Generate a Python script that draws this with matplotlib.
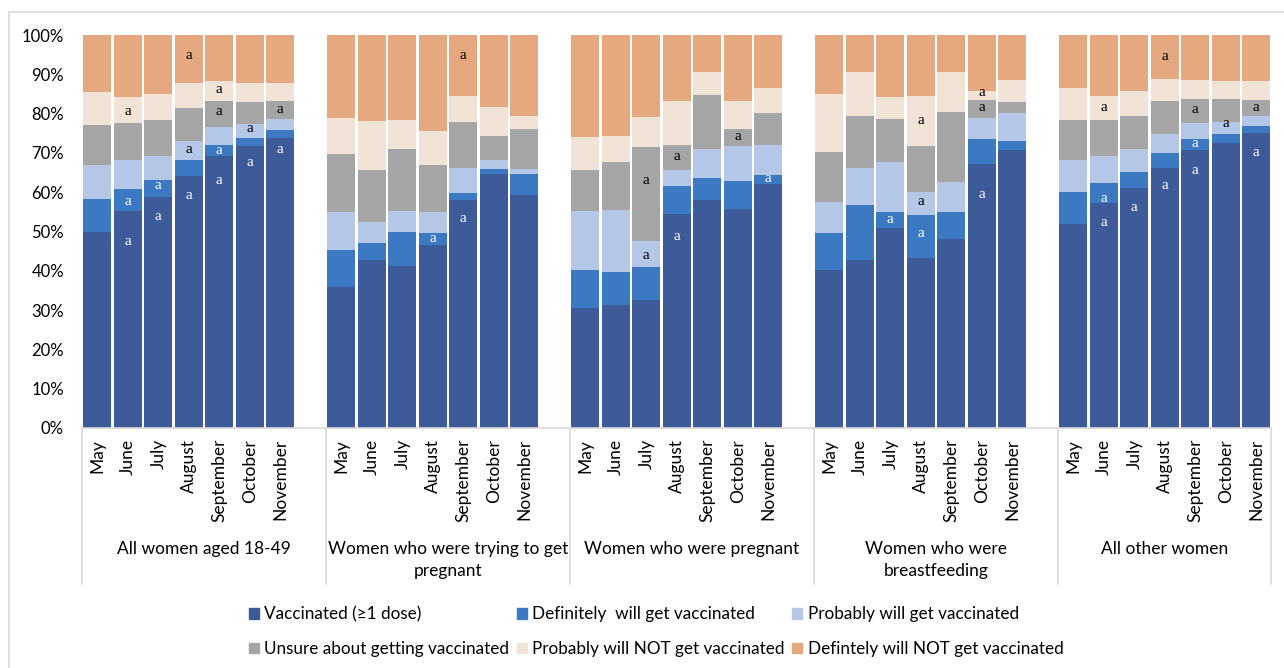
import matplotlib
matplotlib.use("Agg")
import matplotlib.pyplot as plt
from matplotlib.patches import Rectangle, Patch
from matplotlib.transforms import blended_transform_factory
import numpy as np

plt.rcParams['font.family'] = ['Lato', 'DejaVu Sans']

groups = ["All women aged 18-49", "Women who were trying to get\npregnant",
          "Women who were pregnant", "Women who were\nbreastfeeding", "All other women"]
months = ["May", "June", "July", "August", "September", "October", "November"]

series_names = ["Vaccinated (\u22651 dose)", "Definitely  will get vaccinated",
                "Probably will get vaccinated", "Unsure about getting vaccinated",
                "Probably will NOT get vaccinated", "Defintely will NOT get vaccinated"]

# values (%) per group, 7 months each
vaccinated = [50.0, 55.2, 58.7, 64.0, 69.2, 71.7, 73.8,
              36.0, 42.7, 41.2, 46.6, 57.9, 64.7, 59.2,
              30.5, 31.4, 32.5, 54.4, 57.9, 55.6, 62.2,
              40.3, 42.7, 51.0, 43.2, 48.0, 67.1, 70.7,
              51.8, 57.2, 61.1, 66.1, 70.8, 72.6, 75.1]
definitely = [8.3, 5.7, 4.3, 4.1, 2.8, 2.2, 2.0,
              9.2, 4.4, 8.8, 2.9, 1.9, 1.2, 5.5,
              9.8, 8.4, 8.5, 7.1, 5.6, 7.2, 2.1,
              9.2, 14.0, 4.0, 10.9, 6.9, 6.4, 2.4,
              8.3, 5.2, 4.0, 3.8, 2.8, 2.1, 1.7]
probably = [8.5, 7.2, 6.2, 4.9, 4.6, 3.4, 2.8,
            9.7, 5.2, 5.3, 5.4, 6.3, 2.4, 1.1,
            14.9, 15.6, 6.6, 4.1, 7.4, 8.9, 7.7,
            7.9, 9.5, 12.8, 5.9, 7.7, 5.4, 7.1,
            8.2, 6.9, 5.8, 5.0, 4.1, 3.1, 2.6]
unsure = [10.3, 9.5, 9.1, 8.5, 6.7, 5.6, 4.6,
          14.9, 13.3, 15.8, 12.0, 11.7, 6.0, 10.4,
          10.5, 12.3, 23.9, 6.5, 13.9, 4.3, 8.2,
          12.8, 13.2, 10.7, 11.7, 17.7, 4.5, 2.7,
          10.0, 9.0, 8.4, 8.3, 5.9, 5.8, 4.1]
probably_not = [8.5, 6.7, 6.7, 6.4, 5.1, 5.0, 4.6,
                9.2, 12.5, 7.2, 8.6, 6.7, 7.4, 3.2,
                8.4, 6.5, 7.6, 11.1, 5.9, 7.3, 6.2,
                14.9, 11.2, 5.6, 12.9, 10.3, 2.4, 5.7,
                8.1, 6.3, 6.4, 5.7, 4.9, 4.7, 4.8]
definitely_not = [14.4, 15.7, 15.0, 12.1, 11.6, 12.1, 12.2,
                  21.0, 21.9, 21.7, 24.5, 15.5, 18.3, 20.6,
                  25.9, 25.8, 20.9, 16.8, 9.3, 16.7, 13.6,
                  14.9, 9.4, 15.9, 15.4, 9.4, 14.2, 11.4,
                  13.6, 15.4, 14.3, 11.1, 11.5, 11.7, 11.7]

# significance markers "a": (group, month, y%)
markers = [(0, 1, 47.5), (0, 1, 57.7), (0, 1, 80.5), (0, 2, 53.9), (0, 2, 61.6),
           (0, 3, 59.2), (0, 3, 70.9), (0, 3, 94.7), (0, 4, 63.0), (0, 4, 70.7),
           (0, 4, 80.6), (0, 4, 86.2), (0, 5, 67.5), (0, 5, 76.3), (0, 6, 70.9), (0, 6, 81.1),
           (1, 3, 48.2), (1, 4, 53.3), (1, 4, 94.7),
           (2, 2, 63.0), (2, 2, 43.9), (2, 3, 69.2), (2, 3, 48.8), (2, 5, 74.2), (2, 6, 63.6),
           (3, 2, 53.0), (3, 3, 78.2), (3, 3, 57.7), (3, 3, 49.4), (3, 5, 85.4),
           (3, 5, 81.6), (3, 5, 59.4),
           (4, 1, 81.6), (4, 1, 58.4), (4, 1, 52.3), (4, 2, 56.2), (4, 3, 94.5),
           (4, 3, 61.6), (4, 4, 81.0), (4, 4, 72.3), (4, 4, 65.5), (4, 5, 77.5),
           (4, 6, 81.6), (4, 6, 70.0)]

colors = ["#3C5B98", "#3B79C3", "#B4C7E6", "#A5A5A5", "#F1E4D6", "#E6A97F"]

W, H = 1284, 668
fig = plt.figure(figsize=(W / 100, H / 100), dpi=100)
ax_l, ax_r, ax_t, ax_b = 82, 1271.5, 35, 428
ax = fig.add_axes([ax_l / W, 1 - ax_b / H, (ax_r - ax_l) / W, (ax_b - ax_t) / H])

# outer chart border
fig.patches.append(Rectangle((9 / W, -0.1), 1.2, 1 - 12 / H + 0.1, transform=fig.transFigure,
                             fill=False, edgecolor="#D9D9D9", lw=1.2))

n_m = len(months)
slot = 8
xs = np.array([g * slot + m for g in range(len(groups)) for m in range(n_m)], dtype=float)
data = [vaccinated, definitely, probably, unsure, probably_not, definitely_not]
bottom = np.zeros(len(xs))
bw = 28 / 30.5
for vals, c in zip(data, colors):
    v = np.array(vals)
    ax.bar(xs, v, bottom=bottom, width=bw, color=c, edgecolor=c, linewidth=0)
    bottom += v

cum = np.cumsum(np.array(data), axis=0)
for g, m, y in markers:
    i = g * n_m + m
    seg = int(np.searchsorted(cum[:, i], y))
    col = "white" if seg <= 1 else "black"
    ax.text(xs[i], y, "a", ha="center", va="center", fontsize=11,
            family=["Liberation Serif", "DejaVu Serif"], color=col)

total_slots = len(groups) * slot - 1
ax.set_xlim(-0.5, total_slots - 0.5)
ax.set_ylim(0, 100)
ax.set_yticks(np.arange(0, 101, 10))
ax.set_yticklabels([f"{t}%" for t in range(0, 101, 10)], fontsize=12)
ax.tick_params(axis="y", length=0, pad=13)
ax.set_xticks([])
for s in ["top", "right", "left"]:
    ax.spines[s].set_visible(False)
ax.spines["bottom"].set_color("#D9D9D9")
ax.spines["bottom"].set_linewidth(1.2)

px = 1 / (ax_b - ax_t)  # axes fraction per pixel
tr = blended_transform_factory(ax.transData, ax.transAxes)
bounds = [g * slot - 0.5 for g in range(len(groups))] + [total_slots - 0.5]
for b in bounds:
    ax.plot([b, b], [0, -(584 - 428) * px], transform=tr, color="#D9D9D9",
            lw=1.2, clip_on=False)

for i, x in enumerate(xs):
    ax.text(x, -(439 - 428) * px, months[i % n_m], transform=tr, rotation=90,
            ha="center", va="top", fontsize=12.5)

for g, name in enumerate(groups):
    lo = g * slot - 0.5
    hi = min(g * slot + slot - 0.5, total_slots - 0.5)
    ax.text((lo + hi) / 2, -(541 - 428) * px, name, transform=tr, ha="center",
            va="top", fontsize=12.5, linespacing=1.45)

handles = [Patch(facecolor=c, edgecolor=c) for c in colors]
order = [0, 3, 1, 4, 2, 5]
fig.legend([handles[i] for i in order], [series_names[i] for i in order], ncol=3,
           loc="center", bbox_to_anchor=(656 / W, 1 - 631.5 / H), frameon=False,
           fontsize=12.3, handlelength=0.6, handleheight=0.6, handletextpad=0.3,
           columnspacing=0.45, labelspacing=1.1, borderpad=0)

fig.savefig("out.png", dpi=100)
